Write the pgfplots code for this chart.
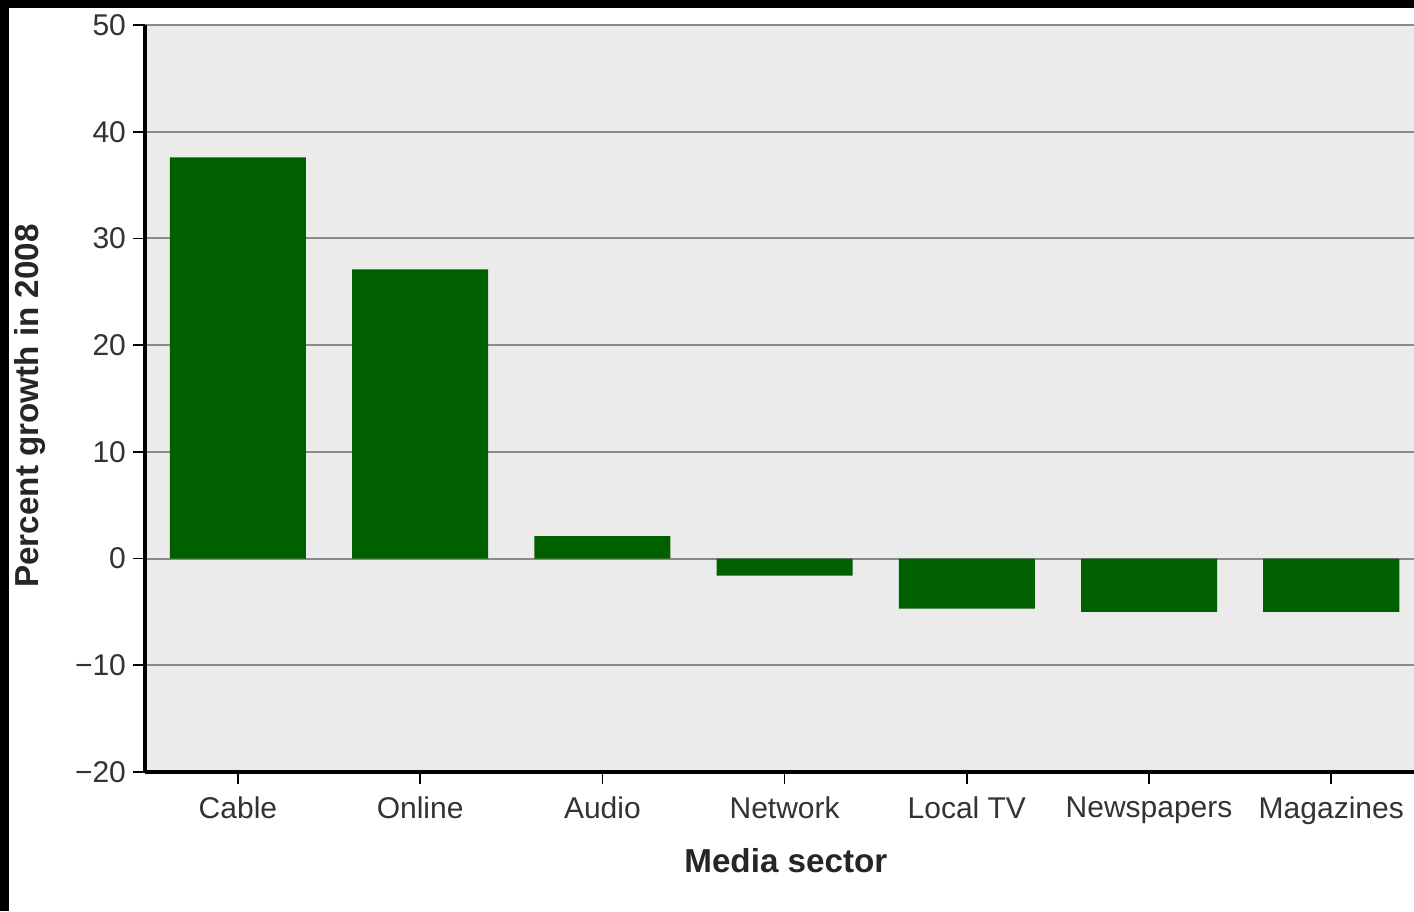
\documentclass[border=0pt]{standalone}
\usepackage{pgfplots}
\pgfplotsset{compat=1.18}
\usepackage{fontspec}
\setmainfont{Liberation Sans}
\definecolor{bargreen}{HTML}{006000}
\definecolor{plotbg}{HTML}{EBEBEB}
\definecolor{gridgray}{HTML}{8A8A8A}
\begin{document}
\begin{tikzpicture}[x=1pt,y=1pt]
\useasboundingbox (0,0) rectangle (707,455.5);
\fill[white] (0,0) rectangle (707,455.5);
\fill[black] (0,451.5) rectangle (707,455.5);
\fill[black] (0,0) rectangle (4.5,455.5);
\begin{axis}[
  at={(72.5pt,69.5pt)}, anchor=south west,
  scale only axis, width=634.5pt, height=373.5pt,
  xmin=-0.51, xmax=6.454, ymin=-20, ymax=50,
  axis background/.style={fill=plotbg},
  axis x line*=bottom, axis y line*=left,
  axis line style={line width=2.2pt, black},
  xtick={0,...,6},
  xticklabels={Cable,Online,Audio,Network,Local TV,Newspapers,Magazines},
  ytick={-20,-10,0,10,20,30,40,50},
  yticklabels={−20,−10,0,10,20,30,40,50},
  ymajorgrids, grid style={gridgray, line width=1pt},
  tick align=outside, major tick length=6pt,
  tick style={black, line width=0.8pt},
  ticklabel style={font=\fontsize{15}{18}\selectfont, text=black!80},
  xticklabel style={yshift=-3pt},
  xlabel={Media sector}, ylabel={Percent growth in 2008},
  label style={font=\bfseries\fontsize{16.6}{19}\selectfont, text=black!85},
  xlabel style={at={(axis description cs:0.505,-0.119)}, anchor=center},
  ylabel style={at={(axis description cs:-0.0906,0.49)}, anchor=center},
]
\addplot[ybar, bar width=0.747, fill=bargreen, draw=none] coordinates {
  (0,37.6) (1,27.1) (2,2.1) (3,-1.6) (4,-4.7) (5,-5.0) (6,-5.0)
};
\end{axis}
\end{tikzpicture}
\end{document}
